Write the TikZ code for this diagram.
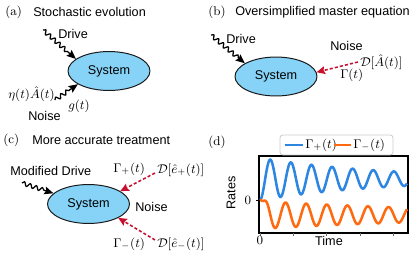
\documentclass[tikz,border=0pt]{standalone}
\usepackage{amsmath,amssymb}
\usepackage{fontspec}
\setsansfont{Liberation Sans}
\usepackage{tikz}
\usetikzlibrary{arrows.meta,decorations.pathmorphing,shapes.geometric}
\definecolor{sysfill}{HTML}{86D3F7}
\definecolor{redacc}{HTML}{C8102E}
\definecolor{blueplus}{HTML}{2E86E3}
\definecolor{orangeminus}{HTML}{FF6A10}
\tikzset{every node/.append style={font=\sffamily\fontsize{9}{10}\selectfont,inner sep=0pt}}
\tikzset{
  sysnode/.style={ellipse,draw=black!90,line width=0.7pt,fill=sysfill,
    minimum width=58.3pt,minimum height=27.7pt},
  paneltag/.style={anchor=west,font=\rmfamily\fontsize{9}{10}\selectfont},
  lbl/.style={anchor=west},
  drivewave/.style={black,line width=0.9pt,-{Stealth[length=6.5pt,width=5.5pt,inset=1pt]},
    decorate,decoration={snake,amplitude=1.4pt,segment length=4.5pt,post length=6pt}},
  noisedash/.style={redacc,line width=1.1pt,dash pattern=on 2.2pt off 1.5pt,
    -{Stealth[length=6pt,width=5.5pt,inset=0.8pt]}},
  curveplus/.style={blueplus,line width=1.8pt},
  curveminus/.style={orangeminus,line width=1.8pt}
}

\begin{document}
\begin{tikzpicture}[x=0.025cm,y=-0.025cm,>=Stealth]
  \useasboundingbox (0,0) rectangle (416,257);
  % (a)
  \node[paneltag] (tagA) at (5,12.5) {(a)};
  \node[lbl] (titleA) at (33,11.5) {Stochastic evolution};
  \node[sysnode] (sysA) at (109,71) {System};
  \coordinate (driveA) at (43,30);
  \coordinate (noiseA) at (55,100);
  \draw[drivewave] (driveA) -- (sysA.160);
  \draw[drivewave] (noiseA) -- (sysA.203);
  \node[lbl] (drvA) at (58,34) {Drive};
  \node[lbl] (etaA) at (8,94) {$\eta(t)\hat{A}(t)$};
  \node[lbl] (gA) at (68,106) {$g(t)$};
  \node[lbl] (noiA) at (28,116) {Noise};
  % (b)
  \node[paneltag] (tagB) at (208,12) {(b)};
  \node[lbl] (titleB) at (235,12) {Oversimplified master equation};
  \node[sysnode] (sysB) at (276,76.5) {System};
  \coordinate (driveB) at (211,35);
  \coordinate (noiseB) at (358,62);
  \draw[drivewave] (driveB) -- (sysB.157);
  \draw[noisedash] (noiseB) -- (sysB.6);
  \node[lbl] (drvB) at (226,39) {Drive};
  \node[lbl] (noiB) at (330,46) {Noise};
  \node[lbl] (dissB) at (360,62) {$\mathcal{D}[\hat{A}(t)]$};
  \node[lbl] (gamB) at (340,75) {$\Gamma(t)$};
  % (c)
  \node[paneltag] (tagC) at (3,140) {(c)};
  \node[lbl] (titleC) at (32,140) {More accurate treatment};
  \node[sysnode] (sysC) at (88.5,204) {System};
  \coordinate (driveC) at (22,183);
  \coordinate (plusC) at (155,173);
  \coordinate (minusC) at (155,240);
  \draw[drivewave] (driveC) -- (sysC.163);
  \draw[noisedash] (plusC) -- (sysC.22);
  \draw[noisedash] (minusC) -- (sysC.-25);
  \node[lbl] (drvC) at (10,171) {Modified Drive};
  \node[lbl] (gpC) at (113,169) {$\Gamma_+(t)$};
  \node[lbl] (dpC) at (157,170) {$\mathcal{D}[\hat{e}_+(t)]$};
  \node[lbl] (noiC) at (135,207) {Noise};
  \node[lbl] (gmC) at (113,244) {$\Gamma_-(t)$};
  \node[lbl] (dmC) at (157,244) {$\mathcal{D}[\hat{e}_-(t)]$};
  % (d)
  \node[paneltag] (tagD) at (208,142) {(d)};
  \draw[line width=0.8pt] (259,156) rectangle (408,233);
  \draw[line width=0.6pt] (259,200) -- (256,200);
  \foreach \tx in {260,293.3,326.7,360,393.3}
    \draw[line width=0.5pt,black!60] (\tx,233) -- (\tx,236);
  \draw[curveplus] plot[domain=0:147,samples=250,variable=\t]
    ({260+\t},{179+21*exp(-\t/131)*cos(17.476*\t)});
  \draw[curveminus] plot[domain=0:147,samples=250,variable=\t]
    ({260+\t},{200+(1-exp(-min((\t/6)^2,30)))*(15-13.9*exp(-\t/231)*cos(17.476*(\t-5)))});
  \node[draw=black!20,line width=0.6pt,fill=white,rounded corners=2pt,
    minimum width=80.4pt,minimum height=14.2pt] (legD) at (336.5,145) {};
  \draw[curveplus] (285,145) -- (303,145);
  \node[lbl] (legP) at (305,145) {$\Gamma_+(t)$};
  \draw[curveminus] (334,145) -- (351,145);
  \node[lbl] (legM) at (353,145) {$\Gamma_-(t)$};
  \node[rotate=90] (ratesD) at (231,193) {Rates};
  \node (zeroY) at (248,200) {$0$};
  \node (zeroX) at (260,240) {$0$};
  \node (timeD) at (329,241) {Time};
\end{tikzpicture}
\end{document}
